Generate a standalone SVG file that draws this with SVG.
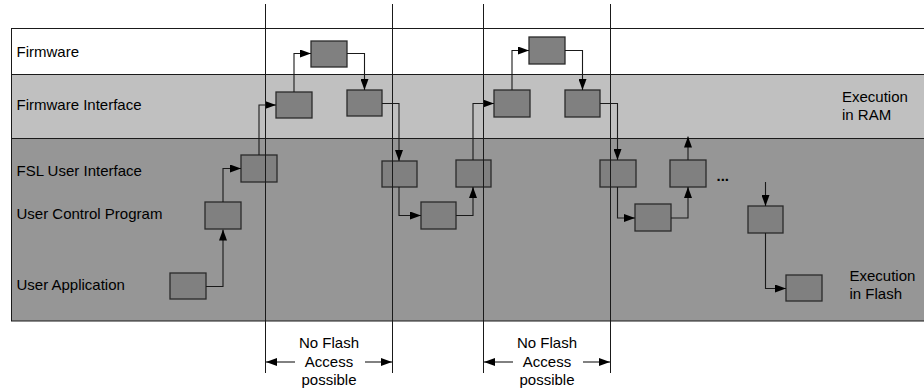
<svg xmlns="http://www.w3.org/2000/svg" width="924" height="389" viewBox="0 0 924 389">
<defs>
<marker id="ah" markerUnits="userSpaceOnUse" markerWidth="11" markerHeight="8" refX="11" refY="4" orient="auto">
<path d="M0,0 L11,4 L0,8 Z" fill="#000"/>
</marker>
<style>
.lbl{font-family:"Liberation Sans",Arial,sans-serif;font-size:15px;fill:#000}
.box{fill:#808080;stroke:#2a2a2a;stroke-width:1.3}
.con{fill:none;stroke:#1a1a1a;stroke-width:1.1;marker-end:url(#ah)}
.sep{stroke:#1a1a1a;stroke-width:1}
.vl{stroke:#1a1a1a;stroke-width:1}
</style>
</defs>
<rect width="924" height="389" fill="#fff"/>
<g id="bands">
<rect x="11.5" y="28.5" width="920" height="46" fill="#fff" class="sep"/>
<rect x="11.5" y="74.5" width="920" height="64" fill="#c0c0c0" class="sep"/>
<rect x="11.5" y="138.5" width="920" height="182.5" fill="#969696" class="sep"/>
<text class="lbl" x="16.5" y="57">Firmware</text>
<text class="lbl" x="16.5" y="110">Firmware Interface</text>
<text class="lbl" x="16.5" y="175.5">FSL User Interface</text>
<text class="lbl" x="16.5" y="219">User Control Program</text>
<text class="lbl" x="16.5" y="290">User Application</text>
<text class="lbl" x="842" y="102">Execution</text>
<text class="lbl" x="842" y="120">in RAM</text>
<text class="lbl" x="849.5" y="280.5">Execution</text>
<text class="lbl" x="849.5" y="298.5">in Flash</text>
</g>
<g id="nodes">
<rect id="fw1" class="box" x="311" y="41" width="36" height="26"/>
<rect id="fw2" class="box" x="529" y="37" width="36" height="27"/>
<rect id="fi1" class="box" x="276" y="92" width="36" height="26"/>
<rect id="fi2" class="box" x="347" y="90" width="35" height="26"/>
<rect id="fi3" class="box" x="494" y="90" width="36" height="27"/>
<rect id="fi4" class="box" x="565" y="90" width="35" height="27"/>
<rect id="fsl1" class="box" x="241" y="155" width="36" height="27"/>
<rect id="fsl2" class="box" x="382" y="161" width="35" height="26"/>
<rect id="fsl3" class="box" x="456" y="160" width="35" height="27"/>
<rect id="fsl4" class="box" x="600" y="160" width="36" height="27"/>
<rect id="fsl5" class="box" x="670" y="160" width="36" height="27"/>
<rect id="ucp1" class="box" x="205" y="202" width="36" height="27"/>
<rect id="ucp2" class="box" x="421" y="202" width="35" height="27"/>
<rect id="ucp3" class="box" x="635" y="204" width="36" height="27"/>
<rect id="ucp4" class="box" x="748" y="206" width="35" height="27"/>
<rect id="ua1" class="box" x="170" y="273" width="36" height="26"/>
<rect id="ua2" class="box" x="786" y="275" width="36" height="26"/>
<text class="lbl" x="716.5" y="181" style="font-weight:bold">...</text>
</g>
<g id="connectors">
<path class="con" d="M206,286.5 H223 V229.5"/>
<path class="con" d="M223,202 V168.5 H241"/>
<path class="con" d="M259,155 V105 H276"/>
<path class="con" d="M294,92 V53.5 H311"/>
<path class="con" d="M347,53.5 H364.5 V90"/>
<path class="con" d="M382,103.5 H399 V161"/>
<path class="con" d="M399,187 V215.5 H421"/>
<path class="con" d="M456,215.5 H473 V187"/>
<path class="con" d="M473,160 V103.5 H494"/>
<path class="con" d="M512,90 V50.5 H529"/>
<path class="con" d="M565,50.5 H582.5 V90"/>
<path class="con" d="M600,103.5 H617.5 V160"/>
<path class="con" d="M617.5,187 V218 H635"/>
<path class="con" d="M671,218 H688 V187"/>
<path class="con" d="M688,160 V136.5"/>
<path class="con" d="M765.5,182 V206"/>
<path class="con" d="M765.5,233 V288.5 H786"/>
</g>
<g id="time-markers">
<line class="vl" x1="265.5" y1="4" x2="265.5" y2="373"/>
<line class="vl" x1="392.5" y1="4" x2="392.5" y2="373"/>
<line class="vl" x1="483.5" y1="4" x2="483.5" y2="373"/>
<line class="vl" x1="610.5" y1="4" x2="610.5" y2="373"/>
<path class="con" d="M295,362 H266"/>
<path class="con" d="M365,362 H392"/>
<path class="con" d="M513,362 H484"/>
<path class="con" d="M583,362 H610"/>
<text class="lbl" x="329" y="348" text-anchor="middle">No Flash</text>
<text class="lbl" x="329" y="366.5" text-anchor="middle">Access</text>
<text class="lbl" x="329" y="385" text-anchor="middle">possible</text>
<text class="lbl" x="547" y="348" text-anchor="middle">No Flash</text>
<text class="lbl" x="547" y="366.5" text-anchor="middle">Access</text>
<text class="lbl" x="547" y="385" text-anchor="middle">possible</text>
</g>
</svg>
